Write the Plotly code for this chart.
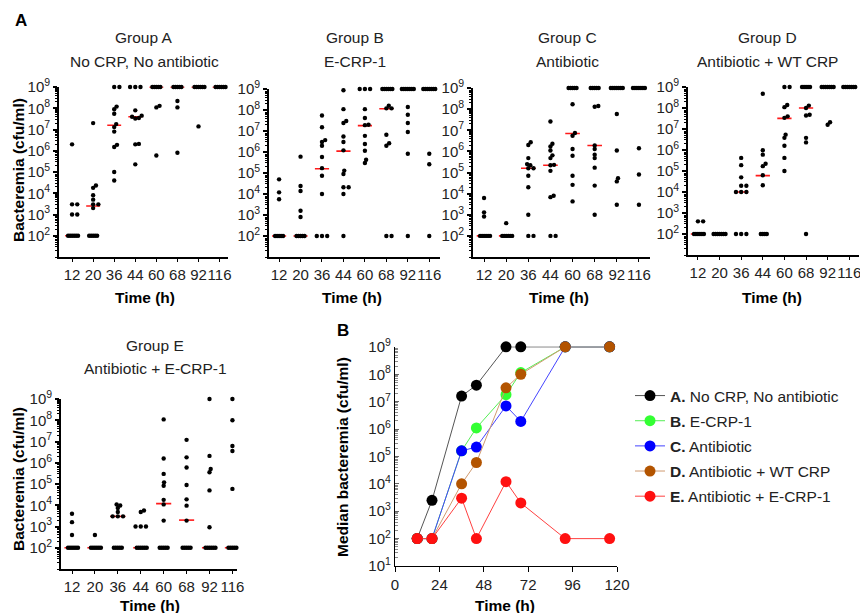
import numpy as np
import plotly.graph_objects as go

# ---------------- data ----------------
TIMES = [12, 20, 36, 44, 60, 68, 92, 116]
TIME_LABELS = ["12", "20", "36", "44", "60", "68", "92", "116"]

GROUP_A = [
    [1e2] * 6 + [1e3, 1e3, 3e3, 3e3, 2e6],
    [1e2] * 5 + [2e3, 3e3, 3e3, 5e3, 8e3, 1.8e4, 2.3e4, 2e7],
    [4e4, 1e5, 1.5e6, 1.9e6, 8e6, 1.3e7, 1.8e7, 5.5e7, 9e7, 1.2e8, 1e9, 1e9],
    [2.3e5, 2e6, 2.1e6, 3.3e7, 3.5e7, 4e7, 4.5e7, 8e7] + [1e9] * 3,
    [6e5, 1.1e8, 1.3e8] + [1e9] * 5,
    [8e5, 1.1e8, 2.2e8] + [1e9] * 5,
    [1.4e7] + [1e9] * 6,
    [1e9] * 6,
]
GROUP_B = [
    [1e2] * 5 + [5.6e3, 1.2e4, 5e4],
    [1e2] * 5 + [8e2, 1.6e3, 1.4e4, 2.4e4, 6e5],
    [1e2] * 3 + [1e4, 7.4e4, 1.7e5, 5.8e5, 2e6, 3e6, 3.7e6, 1.5e7, 5.5e7],
    [1e2, 1e4, 2.1e4, 2.1e4, 9e4, 1.3e5, 1.2e6, 3e6, 5.5e6, 2.4e7, 3e7, 1.1e8, 8.7e8],
    [3e5, 4.3e5, 1.15e6, 2.4e6, 5.9e6, 1.9e7, 2e7, 4.2e7, 1.1e8] + [1e9] * 3,
    [1e2, 1e2, 2e6, 2.6e6, 6.6e6, 1.2e8, 1.2e8, 1.6e8] + [1e9] * 6,
    [1e2, 8.3e5, 9e6, 2.4e7, 6e7, 1.4e8] + [1e9] * 7,
    [1e2, 2.6e5, 8.3e5] + [1e9] * 7,
]
GROUP_C = [
    [1e2] * 6 + [8.3e2, 1.3e3, 6.2e3],
    [1e2] * 6 + [4e2],
    [1e2, 1e2, 1e3, 2e4, 7e4, 1.6e5, 1.6e5, 2.2e5, 2.5e5, 4.8e5, 2e6, 2.7e6],
    [1e2, 1e2, 6.8e3, 8e3, 1.2e5, 2.2e5, 2.3e5, 4.8e5, 6.5e5, 1.1e6, 1.7e6, 2.3e6, 2.6e7],
    [4.3e3, 2.6e4, 7e4, 6.2e5, 1.3e6, 5.5e6, 7.4e6, 1.7e8] + [1e9] * 5,
    [1e3, 2.4e4, 1.7e5, 4.8e5, 7e5, 1.3e6, 1.9e6, 1.3e8, 1.4e8] + [1e9] * 5,
    [3e3, 3.8e4, 5.4e4, 1.1e6, 5.9e7] + [1e9] * 7,
    [3e3, 8e4, 1.4e6] + [1e9] * 7,
]
GROUP_D = [
    [1e2] * 6 + [4e2, 4e2],
    [1e2] * 7,
    [1e2] * 3 + [1e4] * 3 + [2e4, 2e4, 5e4, 1.9e5, 4.2e5],
    [1e2] * 4 + [2.1e4, 6.3e4, 1.7e5, 2.2e5, 6e5, 9.8e5, 4.8e8],
    [1e5, 4.2e5, 1.6e6, 3.8e6, 5.4e6, 3.4e7, 4e7, 1.1e8, 1.4e8, 1e9, 1e9],
    [1e2, 2.3e6, 3.8e6, 4.4e7, 4.8e7, 1e8, 1.3e8] + [1e9] * 5,
    [1.6e7, 2.1e7] + [1e9] * 7,
    [1e9] * 7,
]
GROUP_E = [
    [1e2] * 6 + [4e2, 1.6e3, 4e3],
    [1e2] * 6 + [4e2],
    [1e2] * 5 + [3e3, 3e3, 3e3, 4.8e3, 7.4e3, 9.8e3, 1.1e4],
    [1e2] * 6 + [1e3, 1e3, 1e3, 4.8e3, 5.7e3],
    [1e2] * 5 + [1.9e3, 1.1e4, 1.8e4, 8.3e4, 1.2e5, 3e5, 1.6e6, 1.1e8],
    [1e2] * 5 + [1.9e3, 9.6e3, 1.9e4, 9e4, 6e5, 1.8e6, 1.2e7],
    [1e2] * 6 + [9.3e2, 5e4, 3.6e5, 5.1e5, 2.1e6, 1e9],
    [1e2] * 6 + [5.9e4, 3.6e6, 6.2e6, 1e8, 1e9],
]

MEDIAN_A = [1e2, 2.5e3, 1.6e7, 4e7, 1e9, 1e9, 1e9, 1e9]
MEDIAN_B = [1e2, 1e2, 1.6e5, 1.1e6, 1.8e7, 1.15e8, 1e9, 1e9]
MEDIAN_C = [1e2, 1e2, 1.6e5, 2.2e5, 7e6, 1.9e6, 1e9, 1e9]
MEDIAN_D = [1e2, 1e2, 1e4, 6e4, 3.2e7, 1e8, 1e9, 1e9]
MEDIAN_E = [1e2, 1e2, 3e3, 1e2, 1.2e4, 2e3, 1e2, 1e2]

GROUP_TITLES = ["Group A", "Group B", "Group C", "Group D", "Group E"]
GROUP_SUBTITLES = ["No CRP, No antibiotic", "E-CRP-1", "Antibiotic",
                   "Antibiotic + WT CRP", "Antibiotic + E-CRP-1"]
LEGEND_LETTERS = ["A.", "B.", "C.", "D.", "E."]
LEGEND_NAMES = ["No CRP, No antibiotic", "E-CRP-1", "Antibiotic",
                "Antibiotic + WT CRP", "Antibiotic + E-CRP-1"]
MARKER_COLORS = ["#000000", "#33ff33", "#0000ff", "#b35400", "#ff1010"]
LINE_COLORS = ["#555555", "#55ee55", "#4444ff", "#d09a70", "#ff4040"]

# ---------------- layout helpers ----------------
W, H = 860, 613
FONT = "Arial, Liberation Sans, sans-serif"
FS = 15.5


def fx(px):
    return px / W


def fy(py):
    return 1 - py / H


# panel geometry: left px, right px, x range, top px (1e9), bottom px
PANELS = [
    (59, 228, [-0.62, 7.4], 87, 257),
    (269, 440, [-0.47, 7.5], 89, 257),
    (473, 650, [-0.5, 7.5], 88, 257),
    (688, 859, [-0.46, 7.45], 87, 255),
    (61, 237, [-0.48, 7.2], 399, 569),
]
TITLE_POS = [(144, 38), (355, 38), (567, 38), (767, 38), (155, 345)]
XTITLE_POS = [(145, 297), (352, 297), (559, 297), (772, 297), (150, 605)]
YR = [1, 9.02]


def swarm(values, ppu_x, ppd_y, dmin=3.4):
    logs = np.log10(np.array(values, dtype=float))
    order = np.argsort(logs, kind="stable")
    placed = []
    offs = np.zeros(len(values))
    cands = [0.0] + [s * j * 0.4 for j in range(1, 80) for s in (1, -1)]
    for i in order:
        yp = logs[i] * ppd_y
        same = int(np.sum(np.abs(logs - logs[i]) < 1e-9))
        row_step = 5.0 if same <= 3 else 1.9
        for c in cands:
            ok = True
            for a, b in placed:
                if abs(yp - b) < 1e-6:
                    if abs(c - a) < row_step - 1e-6:
                        ok = False
                        break
                elif (c - a) ** 2 + (yp - b) ** 2 < dmin ** 2:
                    ok = False
                    break
            if ok:
                break
        placed.append((c, yp))
        offs[i] = c / ppu_x
    return offs


fig = go.Figure()
groups = [GROUP_A, GROUP_B, GROUP_C, GROUP_D, GROUP_E]
medians = [MEDIAN_A, MEDIAN_B, MEDIAN_C, MEDIAN_D, MEDIAN_E]
layout = {}
annotations = []

tickvals_y = [10 ** k for k in range(2, 10)]
ticktext_y = ["10<sup>%d</sup>" % k for k in range(2, 10)]


def ann(x, y, text, size=FS, color="#222", angle=0):
    annotations.append(dict(x=fx(x), y=fy(y), xref="paper", yref="paper",
                            xanchor="center", yanchor="middle", text=text,
                            showarrow=False, textangle=angle,
                            font=dict(family=FONT, size=size, color=color)))


for gi, (grp, med, geo) in enumerate(zip(groups, medians, PANELS)):
    x0, x1, xr, ytop, ybot = geo
    n = gi + 1
    xa = "xaxis" if n == 1 else "xaxis%d" % n
    ya = "yaxis" if n == 1 else "yaxis%d" % n
    xref = "x" if n == 1 else "x%d" % n
    yref = "y" if n == 1 else "y%d" % n
    ppu_x = (x1 - x0) / (xr[1] - xr[0])
    ppd_y = (ybot - ytop) / (YR[1] - YR[0])
    mx, my = [], []
    for i, m in enumerate(med):
        mx += [i - 0.33, i + 0.33, None]
        my += [m, m, None]
    fig.add_trace(go.Scatter(x=mx, y=my, mode="lines", xaxis=xref, yaxis=yref,
                             line=dict(color="#ff1a1a", width=1.6),
                             showlegend=False, cliponaxis=False, hoverinfo="skip"))
    dx, dy = [], []
    for i, vals in enumerate(grp):
        offs = swarm(vals, ppu_x, ppd_y)
        dx += list(i + offs)
        dy += list(vals)
    fig.add_trace(go.Scatter(x=dx, y=dy, mode="markers", xaxis=xref, yaxis=yref,
                             marker=dict(color="black", size=4.4, line=dict(width=0)),
                             showlegend=False, cliponaxis=False))
    layout[xa] = dict(domain=[fx(x0), fx(x1)], range=xr, anchor=yref,
                      tickvals=list(range(8)), ticktext=TIME_LABELS, tickangle=0,
                      ticklabeloverflow="allow",
                      showline=True, linecolor="black", linewidth=1.8,
                      ticks="outside", ticklen=3, tickwidth=1.2, tickcolor="black",
                      showgrid=False, zeroline=False,
                      tickfont=dict(family=FONT, size=15, color="#222"))
    layout[ya] = dict(domain=[fy(ybot), fy(ytop - 0.4)], type="log", range=YR, anchor=xref,
                      tickvals=tickvals_y, ticktext=ticktext_y,
                      showline=True, linecolor="black", linewidth=1.8,
                      ticks="outside", ticklen=4, tickwidth=1.5, tickcolor="black",
                      minor=dict(ticks="outside", ticklen=2, tickwidth=1, tickcolor="black",
                                 dtick="D1", showgrid=False),
                      showgrid=False, zeroline=False,
                      tickfont=dict(family=FONT, size=15, color="#222"))
    tx, ty = TITLE_POS[gi]
    ann(tx, ty, GROUP_TITLES[gi])
    ann(tx, ty + 23, GROUP_SUBTITLES[gi])
    ax_, ay_ = XTITLE_POS[gi]
    ann(ax_, ay_, "<b>Time (h)</b>", color="black")

ann(18, 170, "<b>Bacteremia (cfu/ml)</b>", color="black", angle=-90)
ann(18, 479, "<b>Bacteremia (cfu/ml)</b>", color="black", angle=-90)

# ---------------- panel B ----------------
for k in range(5):
    fig.add_trace(go.Scatter(
        x=TIMES, y=medians[k], mode="lines+markers", xaxis="x6", yaxis="y6",
        name="<b>%s</b> %s" % (LEGEND_LETTERS[k], LEGEND_NAMES[k]),
        legendgroup="g%d" % k,
        line=dict(color=LINE_COLORS[k], width=1),
        marker=dict(color=MARKER_COLORS[k], size=11, line=dict(width=0)),
        cliponaxis=False))

layout["xaxis6"] = dict(domain=[fx(395), fx(617)], range=[0, 120], anchor="y6",
                        tickvals=[0, 24, 48, 72, 96, 120], tickangle=0,
                        ticklabeloverflow="allow",
                        showline=True, linecolor="black", linewidth=1.3,
                        ticks="outside", ticklen=5, tickwidth=1.2, tickcolor="black",
                        showgrid=False, zeroline=False,
                        tickfont=dict(family=FONT, size=15, color="#222"))
layout["yaxis6"] = dict(domain=[fy(566), fy(346.6)], type="log", range=[1, 9.01], anchor="x6",
                        tickvals=[10 ** k for k in range(1, 10)],
                        ticktext=["10<sup>%d</sup>" % k for k in range(1, 10)],
                        showline=True, linecolor="black", linewidth=1.3,
                        ticks="inside", ticklen=4, tickwidth=1, tickcolor="#666",
                        minor=dict(ticks="inside", ticklen=3, tickwidth=1, tickcolor="#888",
                                   dtick="D1", showgrid=False),
                        showgrid=False, zeroline=False,
                        tickfont=dict(family=FONT, size=15, color="#222"))
ann(505, 605, "<b>Time (h)</b>", color="black")
ann(342, 457, "<b>Median bacteremia (cfu/ml)</b>", color="black", angle=-90)
ann(21, 20, "<b>A</b>", size=17, color="black")
ann(343, 330, "<b>B</b>", size=17, color="black")

fig.update_layout(
    width=W, height=H,
    margin=dict(l=0, r=0, t=0, b=0, autoexpand=False),
    paper_bgcolor="white", plot_bgcolor="white",
    font=dict(family=FONT, size=FS, color="#222"),
    annotations=annotations,
    showlegend=True,
    legend=dict(x=fx(630), y=fy(379), xanchor="left", yanchor="top",
                bgcolor="rgba(0,0,0,0)", tracegroupgap=2,
                font=dict(family=FONT, size=FS, color="#222")),
    **layout)

fig.write_html("out.html", config={"displayModeBar": False},
               post_script="document.body.style.margin='0';document.body.style.overflow='hidden';")
